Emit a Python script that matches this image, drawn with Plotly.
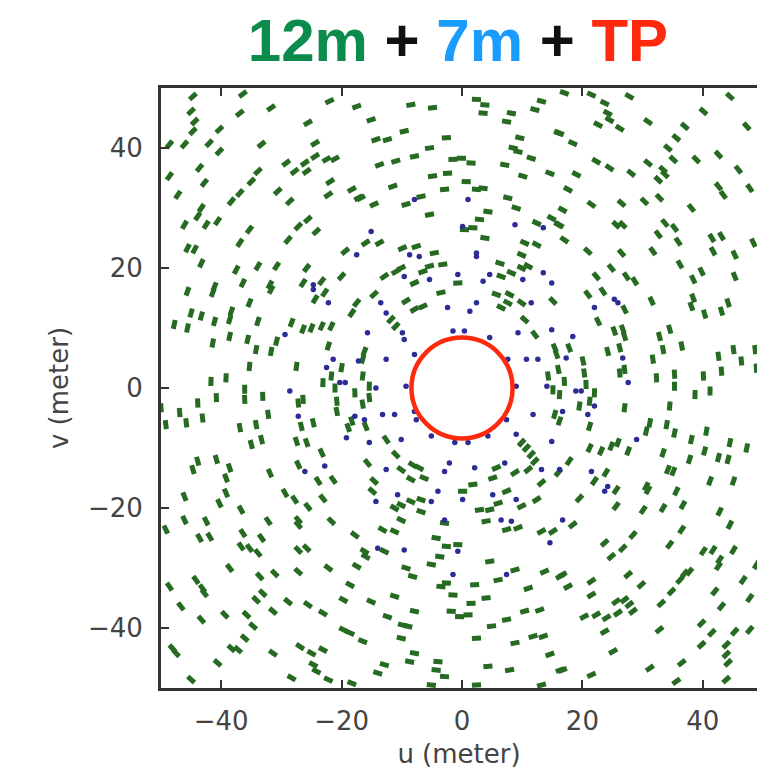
import math
import plotly.graph_objects as go

# ---------------- data ----------------
green_u = [
 -44.7,-36.4,-45,-44.4,-44.7,-36.9,-31.7,-22,-17.5,-25.6,-40.3,-42,-46.1,-48.6,-40.3,-33.3,-24.4,-24.4,-22.5,-21.1,
 -29.2,-27.8,-26.1,-25.8,-43.6,-48.6,-33.9,-35,-42.8,-21.9,-18.3,-17.2,-22.2,-30.6,-28.6,-36.9,-38.3,-47.2,-43.3,-43.9,
 -46.1,-42.5,-40.6,-35.3,-27.2,-25.6,-24.2,-28.9,-36.9,-45.6,-44.4,-19.4,-43.3,-37.5,-33.9,-30.8,-25.8,-20,-36.4,-41.1,
 -31.9,-26.4,-23.3,
 2.4,3.8,3.5,-8.5,-4.9,13.2,12.1,8.2,7.4,-15.1,-9.6,16,-14.3,-12.4,-2.6,9.6,-5.4,8.5,9.3,11.5,
 -7.9,-11,-13.7,-1.5,-0.1,1.5,7.1,14.6,-4.9,-2.4,10.1,0.7,-11.5,-2.9,2.4,3.5,-16.8,-6.8,7.6,-14.6,
 -9.3,9,-5.4,4.3,2.9,14.9,16,12.4,0.4,1.8,-16,-13.7,3.8,10.4,12.4,-9.9,-7.6,-4.6,9.9,6.3,
 -10.1,-11,-5.4,-3.2,9.9,11,-12.9,-6.5,6.5,8.2,-7.9,-0.7,
 17,21.5,27.8,44.5,23.7,24.2,24.5,40.1,22.6,26.2,30.9,37,47.3,16.2,18.4,35.6,34.2,42.6,35.1,38.9,
 22.3,24.5,28.1,30.9,33.4,32.6,33.7,45.9,19,17.6,42.6,43.4,47.8,30.3,32.8,21.5,26.5,16.7,38.1,16.2,
 25.6,26.7,33.7,35.3,17,32.6,35.9,41.5,43.1,48.4,20.9,26.5,31.7,41.7,45.3,24.8,36.2,22.3,27.3,28.7,
 38.4,39.8,45.3,
 -45.6,-41.4,-31.7,-22.8,-24.4,-35.3,-17.5,-18.3,-45,-43.3,-38.3,-38.6,-47.8,-45.6,-41.1,-33.9,-28.3,-26.4,-25,-23.3,
 -21.7,-38.6,-41.4,-35.6,-30.8,-34.2,-31.7,-22.2,-20,-35.3,-27.5,-21.7,-41.7,-39.2,-23.1,-21.1,-36.1,-36.1,-33.1,-40.8,
 -27.2,-26.4,-20.8,-17.8,-43.9,-50,-46.9,-49.2,-45.8,-43.1,-32.2,-20.8,-18.3,-36.9,-34.2,-26.7,-24.7,-18.9,-33.3,-35,
 -27.5,-25.8,-23.3,-43.9,-44.7,-40.8,-38.6,-39.2,-31.9,-27.2,-23.9,-21.4,
 -14.6,-9.3,-7.9,-6.5,-3.5,5.7,7.9,7.6,6.5,9.9,15.1,10.4,-11.8,-11,12.1,-16.2,-16.5,15.4,15.7,16,
 -16.5,-15.4,14.3,15.1,-15.4,-16.5,15.4,-16,-12.6,9.9,10.7,11.5,12.1,-11,-15.7,-10.1,-8.2,-7.1,5.7,8.8,
 11,16,-14.6,-8.5,-6.3,1.8,5.1,13.2,
 20.9,23.4,27,31.5,38.4,38.1,40.3,43.1,44.2,22.6,25.3,26.7,27,32.8,34.5,17.8,24.2,26.2,33.4,36.5,
 42.6,45.1,46.4,48.7,20.1,20.3,31.7,26.2,27,32.3,35.3,40.1,43.1,48.9,17,20.6,35.3,38.7,41.2,16.2,
 22,21.2,19.5,27,34.5,16.2,21.2,31.2,30.6,34,35.3,40.6,38.1,44.5,21.2,23.1,24.8,25.9,27.6,33.4,
 40.3,42.6,44.2,47.3,37.8,17.8,23.9,34.2,35.1,22,30.6,41.2,45.1,
 -46.1,-39.2,-40.3,-29.4,-27.8,-23.1,-25.6,-36.7,-46.1,-42.5,-32.2,-27.2,-27.2,-21.7,-49.2,-43.6,-41.9,-36.4,-33.3,-17.8,
 -36.7,-35.3,-33.9,-27.2,-25.8,-38.6,-33.6,-31.1,-27.2,-22.2,-17.5,-48.6,-44.2,-43.1,-42.8,-18.6,-34.2,-33.1,-19.7,-28.9,
 -25.6,-46.7,-39.4,-35.8,-31.4,-23.1,-43.3,-34.7,-19.7,-18.6,-36.1,-48.1,-47.5,-38.3,-37.2,-31.4,-26.9,-25,-23.1,-24.7,
 -24.2,-40.6,-45,-28.3,-22.2,-18.3,
 -14.9,0.1,7.4,-11.2,-10.1,-8.5,-6.8,6,9.9,12.4,-6.8,2.9,4.6,-10.1,-2.9,4,-13.2,-11.2,7.4,9.3,
 13.2,15.1,-4.3,-16.2,-16,-12.9,-2.6,-0.7,-3.7,-5.1,4.6,-9.3,-8.2,6,8.8,13.7,16.3,-3.5,-2.6,2.1,
 11,-15.1,-11.2,-1.5,1.5,4,-7.9,-1.8,-0.4,1,10.4,12.9,-12.4,-9.9,-9,7.4,4.9,-16.5,-10.1,2.4,
 8.8,11.8,13.5,-7.9,-8.7,14.6,-12.9,-14,-4,-4.3,-2.9,4.3,7.9,16.3,-5.1,2.4,13.2,
 19.5,25.6,30.9,35.6,25.6,30.1,33.4,36.7,42.8,18.4,44.5,36.5,28.4,23.7,34.5,26.7,24.8,40.1,41.7,45.1,
 42.8,42.6,48.9,16.7,27.6,37,37.8,36.2,21.5,46.7,17.6,29.8,34.8,42,21.5,25.6,27,27.8,33.1,47.8,
 25.9,28.4,43.1,20.3,22.3,24,23.7,32.8,39.8,41.5,45.3,47.8,39.8,43.9,43.9,44.2,25.1,36.5,31.2,16.7,
 21.5,35.6,43.9,
]
green_v = [
 48.6,49,46.1,44.4,42.8,45.8,46.7,47.8,46.9,44.2,43.1,40.8,40.6,40.6,39.4,40.6,40.8,38.6,38.1,38.2,
 37.5,36.1,37.5,36.1,36.7,35.3,36.1,34.4,34.2,34.4,33.1,31.7,32.2,32.8,31.1,32.5,31.1,32.2,30,28.6,
 27.2,27.2,27.8,26.4,26.9,28.1,26.1,24.7,24.2,23.3,23.1,22.8,20.8,19.7,20.3,20.3,20,18.6,17.5,16.9,
 17.2,17.5,17.8,
 48.1,47.2,45.8,47.2,46.7,47.8,46.4,45.8,44.4,44.7,42.8,42.5,41.4,41.4,41.7,41.7,40,40,39.4,38.3,
 38.6,37.8,37.2,38.1,38.3,37.5,37.2,35.8,35.3,35.8,35.3,34.4,33.6,33.1,33.1,33.3,31.7,31.9,31.7,30.6,
 30.6,30,28.9,29.4,28.1,28.3,27.2,27.5,26.4,26.7,24.2,24.2,25,24.2,23.9,23.3,23.6,22.5,22.2,20.8,
 20,19.4,20.3,20.6,20,20.3,18.6,19.4,18.6,19.2,17.5,17.5,
 49.2,48.9,48.6,48.6,47.5,45.8,44.7,46.1,43.9,43.3,44.4,43.6,43.6,42.5,40.8,41.7,40,38.9,38.1,38.1,
 37.8,36.7,35.8,37.5,36.4,34.7,35.6,36.4,35.6,33.1,33.6,32.2,33.3,31.1,31.7,30.6,30.8,29.7,30,27.2,
 27.2,27.2,27.5,26.7,24.7,25.6,24.4,25,25.3,24.2,22.8,22.5,22.8,22.8,22.2,20,20.6,18.6,18.6,17.8,
 18.1,19.4,18.6,
 16.1,15.9,16.4,15.9,14.8,14.2,14.2,12.5,12.5,12,12.8,11.4,10.6,10,11.1,11.1,10.9,9.8,10,10.3,
 10.3,8.6,7.5,8.1,7.8,6.4,6.1,7,3.4,3.6,3.6,2,1.1,1.7,0.9,0,-0.2,-1.9,-1.4,-1.6,
 -2.5,-1.9,-2.2,-0.8,-2.5,-3.3,-4.1,-6.1,-5.8,-5,-4.4,-3.9,-5.5,-6.6,-6.1,-6.4,-5.8,-6.6,-8.6,-9.4,
 -8.9,-9.1,-10.8,-12.2,-13.6,-11.9,-13.3,-15,-14.2,-12.8,-15.5,-15.3,
 15.6,14.5,13.1,13.6,15.9,15.6,15.6,14.2,13.4,14.2,14.5,11.4,11.4,10.3,8.9,6.1,4.8,6.7,5.6,3.1,
 2,0.3,2,-0.3,-1.6,-2.7,-4.4,-6.4,-8.6,-9.1,-10,-11.1,-12.2,-11.1,-12.5,-13.6,-12.8,-13.3,-13.3,-14.1,
 -13.6,-14.1,-15.5,-15.2,-15,-16.1,-15,-15.8,
 15.6,16.1,13.1,14.5,15,13.6,12.3,12.8,14.2,11.1,9.5,9.8,8.6,8.6,9.8,6.7,6.1,6.7,6.4,7,
 5.3,6.4,4.5,6.4,4.5,2.5,4.8,2.5,3.1,1.7,2.3,2,2.8,3.3,1.1,0.6,0.3,-1.1,-0.5,-1.1,
 -0.8,-2.2,-3,-3.3,-3,-5.5,-6.4,-5.8,-7.2,-6.1,-7.5,-7.2,-8.6,-9.1,-10,-10.5,-9.7,-9.1,-10.5,-10.8,
 -10.5,-11.6,-11.9,-10,-11.9,-12.2,-14.1,-13.6,-13.9,-15.5,-16.4,-15.5,-15.5,
 -18.1,-17.5,-19.2,-17.5,-18.6,-18.4,-19.8,-20.3,-22,-22.2,-22.2,-22,-22.8,-22.2,-23.6,-25,-24.8,-24.2,-25,-24.5,
 -26.4,-26.7,-27.5,-27,-26.7,-30,-31.4,-30.9,-30.6,-30,-29.7,-33.1,-32,-33.4,-34.2,-32.8,-35.3,-34.2,-35.3,-35.6,
 -36.1,-36.4,-37.8,-37.8,-37.2,-37.5,-38.6,-39.7,-40.3,-40.8,-41.7,-43.4,-44.2,-43.4,-43.6,-44.2,-43.1,-44.2,-43.6,-46.1,
 -47.2,-45.8,-48.6,-48.3,-48.6,-49.2,
 -17.2,-17.2,-17.2,-20,-19.5,-18.9,-18.6,-19.2,-19.7,-18.6,-20.6,-20.3,-20.3,-22,-22.5,-22.2,-23.6,-23.9,-23.6,-23.3,
 -23.9,-23.9,-25,-27.2,-28.1,-27.2,-26.4,-26.1,-28.1,-29.4,-28.9,-30,-31.4,-32,-30.3,-30.6,-31.4,-33.1,-32.5,-32.8,
 -33.4,-35.6,-34.7,-34.5,-35.9,-35,-37.2,-37.2,-38.1,-37.8,-37.2,-37,-38.1,-39.5,-39.7,-38.6,-39.7,-42.2,-41.7,-41.7,
 -42.5,-41.4,-41.4,-44.2,-45.6,-44.4,-46.1,-47.5,-45.6,-47,-48.1,-46.4,-47,-47,-49.5,-49.5,-49.5,
 -18.4,-17,-17,-17.2,-19.7,-20.3,-20,-19.5,-20.6,-22.8,-22.8,-23.6,-24.5,-25.8,-26.1,-26.7,-28.1,-27.2,-27,-27,
 -28.6,-29.7,-29.5,-31.1,-31.1,-30.9,-30.6,-32,-32.2,-32,-33.1,-32.8,-33.9,-33.9,-34.5,-35.6,-35.3,-36.1,-35.9,-35,
 -37.5,-37.2,-36.4,-38.1,-37.8,-38.3,-40.6,-40.3,-39.2,-40.8,-40.6,-40.3,-42.8,-42.8,-44.4,-45.8,-43.9,-45.8,-46.7,-47,
 -47.8,-48.9,-48.6,
]

blue_u = [
 -17.5,-24.7,-7.9,1,-15.1,0.1,8.8,13.5,-8.7,-7.1,2.4,2.4,13.5,-9.6,-0.7,4.6,-5.4,3.5,10.1,14.9,
 -24.7,-22.2,-29.4,-21.4,-17.2,-22.5,-20.3,-19.4,-28.6,-27.2,-17.8,-19.2,-26.1,-22.8,
 -13.5,-2.4,2.4,1.3,11.5,-12.6,-15.7,-9.9,-9.6,-1.5,0.4,4.6,9.3,14.9,-12.6,-7.9,7.6,10.7,12.6,-14.3,
 -9.3,9,14.1,-13.2,-11.2,-7.9,-7.6,7.4,11.8,-16.2,-5.1,-1.2,1,4.3,9,-15.4,-10.1,14.9,-12.6,-2.1,
 -2.9,2.1,7.1,13.2,
 25.3,25.9,22,18.4,17.3,26.7,27.6,18.9,19.8,22,16.7,20.9,29,16.2,21.5,24.2,
 -10.7,-4,5.1,-14.3,-5.1,0.1,9,-2.9,6.5,8.2,-14,-9.6,-0.7,14.6,-1.5,7.4,
 23.7,16.7,
]
blue_v = [
 22.2,17.2,31.4,31.4,26.1,26.9,27.2,26.7,22.2,21.9,22.5,21.9,19.2,18.6,18.9,18.9,18.1,17.8,18.1,17.5,
 16.4,14.2,8.9,4.8,4.5,3.4,0.9,0.9,-0.5,-4.7,-4.7,-8.3,-13.9,-13,
 14.2,13.4,14.2,12.8,14.2,12.5,9.2,9.2,8.1,9.5,9.5,8.4,9.2,9.7,4.8,5.6,4.8,4.8,4.8,0,
 0.3,0.3,0.3,-4.4,-4.4,-3.9,-5.3,-5.3,-4.4,-5.3,-8,-9.1,-9.1,-8,-7.7,-9.1,-8.6,-8.9,-13.6,-12.5,
 -13.9,-13.3,-12.5,-13.6,
 14.8,14.2,13.4,8.6,5,5,0.9,-0.5,-0.5,-3,-3.9,-4.4,-8.6,-13.6,-13.9,-16.4,
 -17.8,-17.2,-17.8,-18.9,-18.9,-18.6,-18.6,-22,-22,-22.2,-26.7,-27,-27.2,-25.8,-31.1,-31.1,
 -17.2,-22,
]

tp_radius = 8.4
x_ticks = [-40, -20, 0, 20, 40]
y_ticks = [-40, -20, 0, 20, 40]
title_parts = [("12m", "#0b8c4c"), (" + ", "#111111"), ("7m", "#1a9cff"), (" + ", "#111111"), ("TP", "#ff2a0e")]

# dash orientation: tangential to circles about the origin
green_angle = [(-(math.degrees(math.atan2(v, u)) + 90.0)) % 180 for u, v in zip(green_u, green_v)]

fig = go.Figure()
fig.add_trace(go.Scatter(
    x=green_u, y=green_v, mode="markers",
    marker=dict(symbol="line-ew", size=6.5, angle=green_angle,
                line=dict(width=5, color="#276b22")),
    hoverinfo="skip", showlegend=False))
fig.add_trace(go.Scatter(
    x=blue_u, y=blue_v, mode="markers",
    marker=dict(symbol="circle", size=5.5, color="#2c2c96", line=dict(width=0)),
    hoverinfo="skip", showlegend=False))

fig.add_shape(type="circle", xref="x", yref="y",
              x0=-tp_radius, x1=tp_radius, y0=-tp_radius, y1=tp_radius,
              line=dict(color="#ff2a0e", width=4.5), fillcolor="white", layer="above")

title_html = "<b>" + "".join(f"<span style='color:{c}'>{t}</span>" for t, c in title_parts) + "</b>"

axis_font = dict(family="DejaVu Sans", size=26, color="#444444")
fig.update_layout(
    width=757, height=780,
    margin=dict(l=161, r=0, t=88, b=92),
    paper_bgcolor="white", plot_bgcolor="white",
    title=dict(text=title_html, x=0.605, xanchor="center", xref="container",
               y=1 - 40/780, yanchor="middle", yref="container",
               font=dict(family="Liberation Sans", size=60)),
    xaxis=dict(range=[-50, 49.0], tickvals=x_ticks, ticks="inside", ticklen=8, tickwidth=1.5,
               tickcolor="#333333", showline=True, linecolor="#333333", linewidth=3, mirror="ticks",
               showgrid=False, zeroline=False, tickfont=axis_font, ticklabelstandoff=8,
               title=dict(text="u (meter)", font=axis_font, standoff=10)),
    yaxis=dict(range=[-50, 50], tickvals=y_ticks, ticks="inside", ticklen=8, tickwidth=1.5,
               tickcolor="#333333", showline=True, linecolor="#333333", linewidth=3, mirror=False,
               showgrid=False, zeroline=False, tickfont=axis_font, ticklabelstandoff=10,
               title=dict(text="v (meter)", font=axis_font, standoff=12)),
)

fig.write_html("out.html")
